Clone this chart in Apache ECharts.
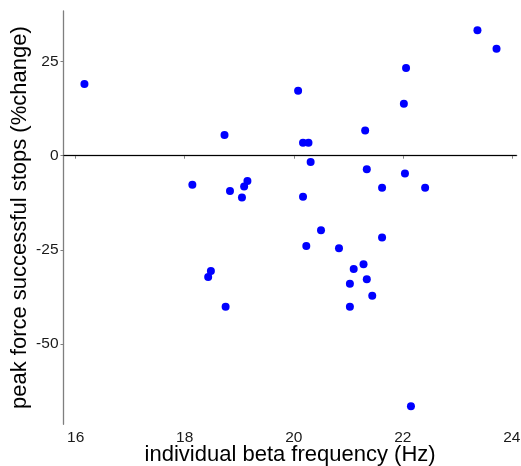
<!DOCTYPE html>
<html>
<head>
<meta charset="utf-8">
<script src="https://cdn.jsdelivr.net/npm/echarts@6/dist/echarts.min.js"></script>
<style>
	html, body { margin: 0; padding: 0; background: #fff; }
	#main { width: 521px; height: 466px; }
</style>
</head>
<body>
<div id="main"></div>
<script>
// 数据: beta 频率 (Hz)
const betaFreq = [
	16.16, 18.73, 18.14, 18.83, 19.15, 19.09, 19.05,
	23.37, 23.72, 22.06, 20.08, 22.02, 21.31, 20.17, 20.27, 20.31, 21.34, 22.04, 21.62, 22.41, 20.17,
	18.48, 18.43, 18.75,
	20.50, 20.23, 20.83, 21.62, 21.28, 21.10, 21.34, 21.03, 21.44, 21.03, 22.15
];
// 数据: peak force 变化 (%)
const peakForce = [
	19.0, 5.5, -7.7, -9.4, -6.7, -8.2, -11.1,
	33.3, 28.4, 23.3, 17.2, 13.8, 6.7, 3.4, 3.4, -1.7, -3.6, -4.7, -8.5, -8.5, -10.9,
	-30.6, -32.2, -40.1,
	-19.8, -24.0, -24.6, -21.7, -28.8, -30.1, -32.8, -34.0, -37.2, -40.1, -66.5
];
const xTicks = [16, 18, 20, 22, 24];
const yTicks = [-50, -25, 0, 25];

const chart = echarts.init(document.getElementById('main'));
const font = 'Liberation Sans, Arial, sans-serif';

chart.setOption({
	animation: false,
	grid: { left: 63.5, right: 4.3, top: 11, bottom: 41.7, containLabel: false, outerBoundsMode: 'none' },
	xAxis: {
		type: 'value',
		min: 15.776,
		max: 24.09,
		name: 'individual beta frequency (Hz)',
		nameLocation: 'middle',
		nameGap: 20,
		nameMoveOverlap: false,
		nameTextStyle: { fontFamily: font, fontSize: 22, color: '#000' },
		axisLine: { show: true, lineStyle: { color: '#7f7f7f', width: 1.3 } },
		axisTick: { show: true, length: 3, customValues: xTicks, lineStyle: { color: '#7f7f7f' } },
		axisLabel: { customValues: xTicks, fontFamily: font, fontSize: 15.5, color: '#1a1a1a', margin: 5 },
		splitLine: { show: false }
	},
	yAxis: {
		type: 'value',
		min: -71.3,
		max: 38.4,
		name: 'peak force successful stops (%change)',
		nameLocation: 'middle',
		nameGap: 33,
		nameMoveOverlap: false,
		nameTextStyle: { fontFamily: font, fontSize: 22, color: '#000' },
		axisLine: { show: true, lineStyle: { color: '#7f7f7f', width: 1.3 } },
		axisTick: { show: true, length: 3, customValues: yTicks, lineStyle: { color: '#7f7f7f' } },
		axisLabel: {
			customValues: yTicks,
			fontFamily: font, fontSize: 15.5, color: '#1a1a1a', margin: 5,
			formatter: v => String(v)
		},
		splitLine: { show: false }
	},
	series: [{
		type: 'scatter',
		symbolSize: 8,
		itemStyle: { color: '#0000ff', opacity: 1 },
		data: betaFreq.map((x, i) => [x, peakForce[i]]),
		markLine: {
			silent: true,
			symbol: 'none',
			label: { show: false },
			lineStyle: { color: '#000', width: 1.2, type: 'solid' },
			data: [{ yAxis: 0 }]
		}
	}]
});
</script>
</body>
</html>
